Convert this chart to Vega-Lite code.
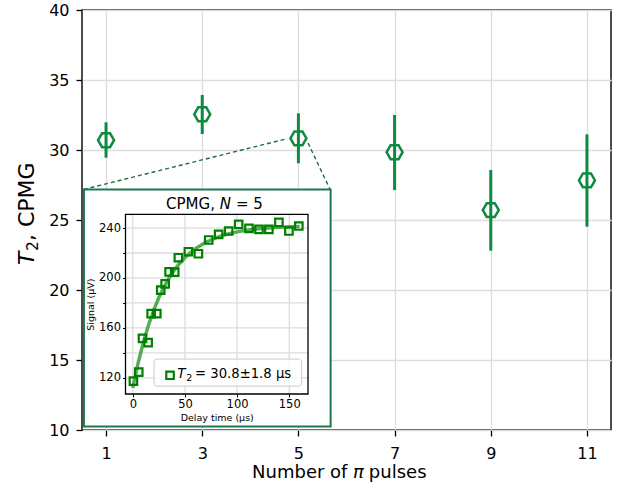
{
  "$schema": "https://vega.github.io/schema/vega-lite/v6.json",
  "width": 529,
  "height": 420,
  "autosize": {"type": "none"},
  "padding": {"left": 82, "top": 10, "right": 10, "bottom": 59},
  "background": "white",
  "config": {
    "font": "DejaVu Sans",
    "view": {"stroke": "#111111", "strokeWidth": 1.5},
    "axis": {"domain": false, "labelColor": "#000000", "tickColor": "#000000", "gridColor": "#dddddd", "gridWidth": 1.3, "titleColor": "#000000", "labelFont": "DejaVu Sans", "titleFont": "DejaVu Sans", "titleFontWeight": "normal"}
  },
  "datasets": {
    "pulses": [
      {"n": 1, "t2": 30.7, "lo": 29.45, "hi": 31.98},
      {"n": 3, "t2": 32.55, "lo": 31.14, "hi": 33.93},
      {"n": 5, "t2": 30.83, "lo": 29.05, "hi": 32.62},
      {"n": 7, "t2": 29.84, "lo": 27.14, "hi": 32.5},
      {"n": 9, "t2": 25.71, "lo": 22.81, "hi": 28.57},
      {"n": 11, "t2": 27.83, "lo": 24.52, "hi": 31.12}
    ],
    "connectors": [
      {"xa": 4.71, "ya": 30.76, "xb": 0.53, "yb": 27.18},
      {"xa": 5.2, "ya": 30.5, "xb": 5.66, "yb": 27.18}
    ],
    "insetBox": [
      {"xa": 0.54, "xb": 5.67, "ya": 10.25, "yb": 27.18}
    ],
    "signal": [
      {"t": 0.6, "s": 117.3}, {"t": 5.7, "s": 124.5}, {"t": 9.3, "s": 151.6}, {"t": 14.7, "s": 148.1},
      {"t": 17.6, "s": 171.4}, {"t": 23.0, "s": 171.4}, {"t": 26.8, "s": 190.2}, {"t": 31.0, "s": 195.3},
      {"t": 34.8, "s": 204.9}, {"t": 40.2, "s": 204.7}, {"t": 43.7, "s": 216.2}, {"t": 53.3, "s": 221.0},
      {"t": 62.9, "s": 219.4}, {"t": 72.8, "s": 230.4}, {"t": 82.3, "s": 234.9}, {"t": 91.9, "s": 237.6},
      {"t": 101.5, "s": 242.9}, {"t": 111.4, "s": 239.7}, {"t": 121.0, "s": 238.9}, {"t": 130.5, "s": 238.9},
      {"t": 140.1, "s": 244.6}, {"t": 149.7, "s": 237.6}, {"t": 159.2, "s": 241.6}
    ],
    "fit": [
      {"t": 0, "s": 112.0}, {"t": 5, "s": 131.5}, {"t": 10, "s": 148.0}, {"t": 15, "s": 162.1},
      {"t": 20, "s": 174.1}, {"t": 25, "s": 184.3}, {"t": 30, "s": 192.9}, {"t": 35, "s": 200.3},
      {"t": 40, "s": 206.5}, {"t": 45, "s": 211.8}, {"t": 50, "s": 216.4}, {"t": 60, "s": 223.5},
      {"t": 70, "s": 228.6}, {"t": 80, "s": 232.3}, {"t": 90, "s": 235.0}, {"t": 100, "s": 236.9},
      {"t": 110, "s": 238.3}, {"t": 120, "s": 239.4}, {"t": 130, "s": 240.1}, {"t": 140, "s": 240.6},
      {"t": 150, "s": 241.0}, {"t": 160, "s": 241.3}
    ],
    "gridX": [{"gx": 0}, {"gx": 50}, {"gx": 100}, {"gx": 150}],
    "gridY": [{"gy": 120}, {"gy": 140}, {"gy": 160}, {"gy": 180}, {"gy": 200}, {"gy": 220}, {"gy": 240}],
    "one": [{}]
  },
  "resolve": {
    "scale": {"x": "independent", "y": "independent"},
    "axis": {"x": "independent", "y": "independent"}
  },
  "layer": [
    {
      "layer": [
        {
          "data": {"name": "pulses"},
          "mark": {"type": "rule", "color": "#0e8a41", "strokeWidth": 3},
          "encoding": {
            "x": {"field": "n", "type": "quantitative",
              "scale": {"domain": [0.5, 11.5], "nice": false, "zero": false},
              "axis": {"orient": "bottom", "values": [1, 3, 5, 7, 9, 11], "grid": true, "tickSize": 6, "tickWidth": 1.3, "labelFontSize": 16, "labelPadding": 9, "title": null}},
            "y": {"field": "lo", "type": "quantitative",
              "scale": {"domain": [10, 40], "nice": false, "zero": false},
              "axis": {"orient": "left", "values": [10, 15, 20, 25, 30, 35, 40], "grid": true, "tickSize": 6, "tickWidth": 1.3, "labelFontSize": 16, "labelPadding": 7, "title": null}},
            "y2": {"field": "hi"}
          }
        },
        {
          "data": {"name": "pulses"},
          "mark": {"type": "point", "shape": "M-1,0L-0.5,-0.866L0.5,-0.866L1,0L0.5,0.866L-0.5,0.866Z", "size": 256, "filled": false, "strokeWidth": 2.5, "color": "#0e8a41", "opacity": 1},
          "encoding": {
            "x": {"field": "n", "type": "quantitative"},
            "y": {"field": "t2", "type": "quantitative"}
          }
        },
        {
          "data": {"name": "connectors"},
          "mark": {"type": "rule", "color": "#1b6e45", "strokeWidth": 1.4, "strokeDash": [4, 3]},
          "encoding": {
            "x": {"field": "xa", "type": "quantitative"},
            "y": {"field": "ya", "type": "quantitative"},
            "x2": {"field": "xb"},
            "y2": {"field": "yb"}
          }
        },
        {
          "data": {"name": "insetBox"},
          "mark": {"type": "rect", "fill": "white", "stroke": "#1b7a4d", "strokeWidth": 2},
          "encoding": {
            "x": {"field": "xa", "type": "quantitative"},
            "x2": {"field": "xb"},
            "y": {"field": "ya", "type": "quantitative"},
            "y2": {"field": "yb"}
          }
        },
        {
          "data": {"name": "one"},
          "mark": {"type": "text", "text": "T", "angle": 270, "align": "left", "baseline": "alphabetic", "fontSize": 22, "fontStyle": "italic", "color": "#000000"},
          "encoding": {
            "x": {"datum": -0.506, "type": "quantitative"},
            "y": {"datum": 21.79, "type": "quantitative"}
          }
        },
        {
          "data": {"name": "one"},
          "mark": {"type": "text", "text": "2", "angle": 270, "align": "left", "baseline": "alphabetic", "fontSize": 15.5, "color": "#000000"},
          "encoding": {
            "x": {"datum": -0.423, "type": "quantitative"},
            "y": {"datum": 22.79, "type": "quantitative"}
          }
        },
        {
          "data": {"name": "one"},
          "mark": {"type": "text", "text": ", CPMG", "angle": 270, "align": "left", "baseline": "alphabetic", "fontSize": 22, "color": "#000000"},
          "encoding": {
            "x": {"datum": -0.506, "type": "quantitative"},
            "y": {"datum": 23.5, "type": "quantitative"}
          }
        },
        {
          "data": {"name": "one"},
          "mark": {"type": "text", "text": "Number of", "align": "right", "baseline": "alphabetic", "fontSize": 18, "color": "#000000"},
          "encoding": {
            "x": {"datum": 6.02, "type": "quantitative"},
            "y": {"datum": 6.55, "type": "quantitative"}
          }
        },
        {
          "data": {"name": "one"},
          "mark": {"type": "text", "text": "π", "align": "center", "baseline": "alphabetic", "fontSize": 18, "fontStyle": "italic", "color": "#000000"},
          "encoding": {
            "x": {"datum": 6.25, "type": "quantitative"},
            "y": {"datum": 6.55, "type": "quantitative"}
          }
        },
        {
          "data": {"name": "one"},
          "mark": {"type": "text", "text": "pulses", "align": "left", "baseline": "alphabetic", "fontSize": 18, "color": "#000000"},
          "encoding": {
            "x": {"datum": 6.465, "type": "quantitative"},
            "y": {"datum": 6.55, "type": "quantitative"}
          }
        }
      ]
    },
    {
      "layer": [
        {
          "data": {"name": "gridX"},
          "mark": {"type": "rule", "color": "#dddddd", "strokeWidth": 1.3},
          "encoding": {
            "x": {"field": "gx", "type": "quantitative",
              "scale": {"domain": [-7, 168], "range": [43.5, 226], "nice": false, "zero": false},
              "axis": {"orient": "bottom", "offset": -36, "values": [0, 50, 100, 150], "grid": false, "tickSize": 3, "labelFontSize": 11.5, "labelPadding": 1, "title": "Delay time (µs)", "titleFontSize": 9.5, "titlePadding": 3, "zindex": 1}},
            "y": {"datum": 107, "type": "quantitative",
              "scale": {"domain": [107, 251], "range": [384, 204.3], "nice": false, "zero": false},
              "axis": {"orient": "left", "offset": -43.5, "values": [120, 140, 160, 180, 200, 220, 240], "labelExpr": "datum.value % 40 == 0 ? datum.label : ''", "grid": false, "tickSize": 3, "labelFontSize": 11.5, "labelPadding": 2, "title": "Signal (µV)", "titleFontSize": 9.5, "titlePadding": 3, "zindex": 1}},
            "y2": {"datum": 251}
          }
        },
        {
          "data": {"name": "gridY"},
          "mark": {"type": "rule", "color": "#dddddd", "strokeWidth": 1.3},
          "encoding": {
            "y": {"field": "gy", "type": "quantitative"},
            "x": {"datum": -7, "type": "quantitative"},
            "x2": {"datum": 168}
          }
        },
        {
          "data": {"name": "fit"},
          "mark": {"type": "line", "color": "#3a9c3a", "strokeWidth": 3.5, "opacity": 0.85},
          "encoding": {
            "x": {"field": "t", "type": "quantitative"},
            "y": {"field": "s", "type": "quantitative"}
          }
        },
        {
          "data": {"name": "signal"},
          "mark": {"type": "point", "shape": "square", "size": 56, "filled": false, "strokeWidth": 2.2, "color": "#008000", "opacity": 1},
          "encoding": {
            "x": {"field": "t", "type": "quantitative"},
            "y": {"field": "s", "type": "quantitative"}
          }
        },
        {
          "data": {"name": "one"},
          "mark": {"type": "rect", "fill": "none", "stroke": "#000000", "strokeWidth": 1.3},
          "encoding": {
            "x": {"datum": -7, "type": "quantitative"},
            "x2": {"datum": 168},
            "y": {"datum": 107, "type": "quantitative"},
            "y2": {"datum": 251}
          }
        },
        {
          "data": {"name": "one"},
          "mark": {"type": "rect", "fill": "white", "fillOpacity": 0.8, "stroke": "#cccccc", "strokeWidth": 1, "cornerRadius": 3},
          "encoding": {
            "x": {"datum": 20.4, "type": "quantitative"},
            "x2": {"datum": 161.9},
            "y": {"datum": 113.3, "type": "quantitative"},
            "y2": {"datum": 135}
          }
        },
        {
          "data": {"name": "one"},
          "mark": {"type": "point", "shape": "square", "size": 56, "filled": false, "strokeWidth": 2.2, "color": "#008000", "opacity": 1},
          "encoding": {
            "x": {"datum": 35.7, "type": "quantitative"},
            "y": {"datum": 122, "type": "quantitative"}
          }
        },
        {
          "data": {"name": "one"},
          "mark": {"type": "text", "text": "T", "align": "left", "baseline": "alphabetic", "fontSize": 13.5, "fontStyle": "italic", "color": "#000000"},
          "encoding": {
            "x": {"datum": 42.7, "type": "quantitative"},
            "y": {"datum": 119.5, "type": "quantitative"}
          }
        },
        {
          "data": {"name": "one"},
          "mark": {"type": "text", "text": "2", "align": "left", "baseline": "alphabetic", "fontSize": 9.5, "color": "#000000"},
          "encoding": {
            "x": {"datum": 51.3, "type": "quantitative"},
            "y": {"datum": 117.4, "type": "quantitative"}
          }
        },
        {
          "data": {"name": "one"},
          "mark": {"type": "text", "text": "= 30.8±1.8 µs", "align": "left", "baseline": "alphabetic", "fontSize": 13.2, "color": "#000000"},
          "encoding": {
            "x": {"datum": 59.7, "type": "quantitative"},
            "y": {"datum": 119.5, "type": "quantitative"}
          }
        },
        {
          "data": {"name": "one"},
          "mark": {"type": "text", "text": "CPMG,", "align": "left", "baseline": "alphabetic", "fontSize": 15, "color": "#000000"},
          "encoding": {
            "x": {"datum": 31.9, "type": "quantitative"},
            "y": {"datum": 255.5, "type": "quantitative"}
          }
        },
        {
          "data": {"name": "one"},
          "mark": {"type": "text", "text": "N", "align": "left", "baseline": "alphabetic", "fontSize": 15, "fontStyle": "italic", "color": "#000000"},
          "encoding": {
            "x": {"datum": 83.3, "type": "quantitative"},
            "y": {"datum": 255.5, "type": "quantitative"}
          }
        },
        {
          "data": {"name": "one"},
          "mark": {"type": "text", "text": "= 5", "align": "left", "baseline": "alphabetic", "fontSize": 15, "color": "#000000"},
          "encoding": {
            "x": {"datum": 98.9, "type": "quantitative"},
            "y": {"datum": 255.5, "type": "quantitative"}
          }
        }
      ]
    }
  ]
}
